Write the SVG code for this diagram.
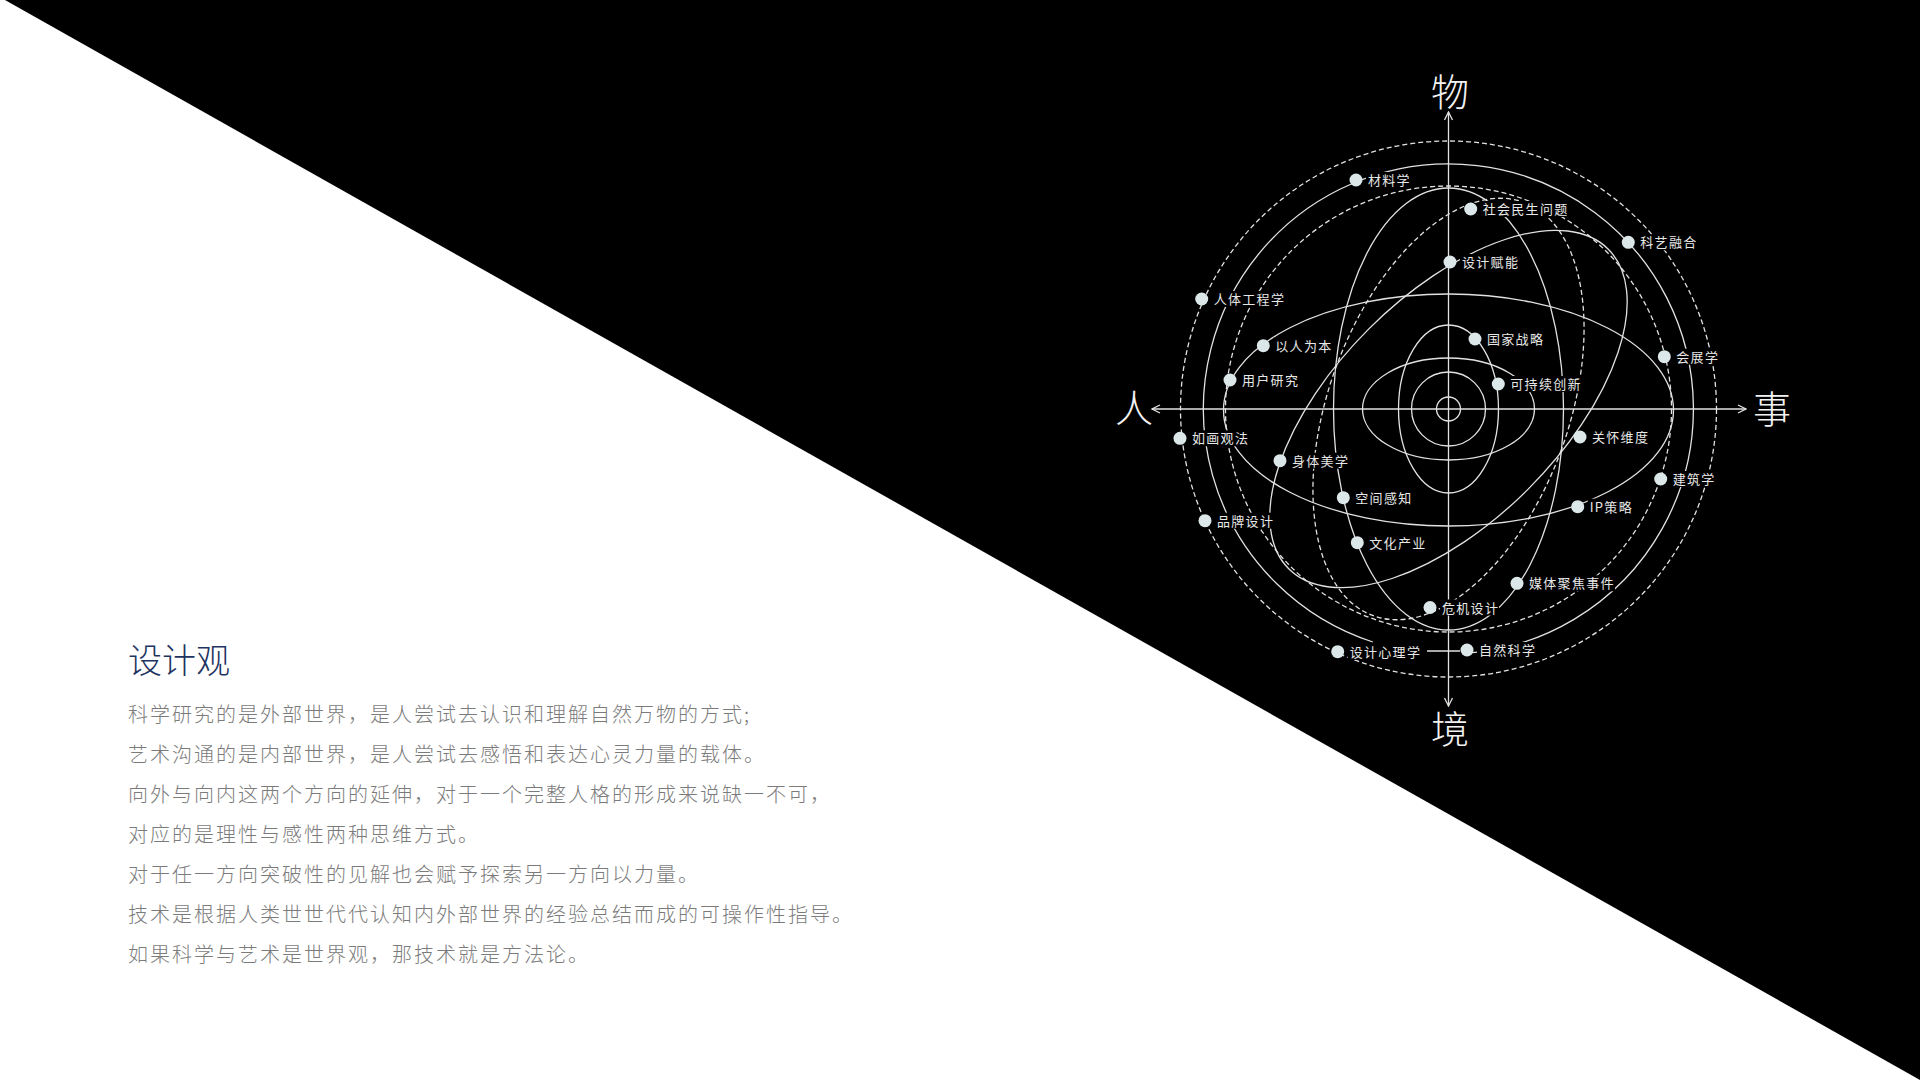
<svg xmlns="http://www.w3.org/2000/svg" width="1920" height="1080" viewBox="0 0 1920 1080">
<defs>
<style>
.curve{fill:none;stroke:#e2e2e2;stroke-width:1.3}
.dash{stroke-dasharray:5 3}
.mask{fill:#000}
.dot{fill:#dce7ea}
.lbl{font-family:"Noto Sans CJK SC","Noto Sans",sans-serif;font-size:13px;letter-spacing:1.3px;fill:#e8e8e8}
.ax{font-family:"Noto Sans CJK SC","Noto Sans",sans-serif;font-size:38px;font-weight:300;fill:#f2f2f2;text-anchor:middle}
.title{font-family:"Noto Sans CJK SC","Noto Sans",sans-serif;font-size:34px;font-weight:300;fill:#1d3461}
.body{font-family:"Noto Sans CJK SC","Noto Sans",sans-serif;font-size:20px;font-weight:300;letter-spacing:2px;fill:#7b7b7b}
</style>
<marker id="arr" viewBox="0 0 10 10" refX="9" refY="5" markerWidth="10" markerHeight="10" markerUnits="userSpaceOnUse" orient="auto">
<path d="M1,1 L9,5 L1,9" fill="none" stroke="#e2e2e2" stroke-width="1.3"/>
</marker>
</defs>

<rect x="0" y="0" width="1920" height="1080" fill="#ffffff"/>
<polygon points="5,0 1920,0 1920,1080" fill="#000000"/>

<g id="connectors">
<circle class="curve dash" cx="1448.5" cy="409" r="268"/>
<path class="curve" d="M1467.7,653.2 A245,245 0 1 0 1372.8,642"/>
<circle class="curve dash" cx="1448.5" cy="409" r="223"/>
<ellipse class="curve" cx="1448.5" cy="410" rx="225" ry="116"/>
<ellipse class="curve" cx="0" cy="0" rx="226" ry="113" transform="translate(1448.5 409) rotate(-45)"/>
<ellipse class="curve" cx="1448.5" cy="409" rx="115" ry="221"/>
<ellipse class="curve dash" cx="0" cy="0" rx="120" ry="220" transform="translate(1448.5 409) rotate(20)"/>
<circle class="curve" cx="1448.5" cy="409" r="12"/>
<circle class="curve" cx="1448.5" cy="409" r="37"/>
<ellipse class="curve" cx="1448.5" cy="409" rx="86" ry="51"/>
<ellipse class="curve" cx="1448.5" cy="409" rx="50" ry="84"/>
<path class="curve" d="M1448.5,409 V112" marker-end="url(#arr)"/>
<path class="curve" d="M1448.5,409 V706" marker-end="url(#arr)"/>
<path class="curve" d="M1448.5,409 H1152" marker-end="url(#arr)"/>
<path class="curve" d="M1448.5,409 H1746" marker-end="url(#arr)"/>
</g>

<g id="n-cailiaoxue"><rect class="mask" x="1366" y="172" width="45" height="16"/><circle class="dot" cx="1356" cy="180" r="6.5"/><text class="lbl" x="1368" y="185">材料学</text></g>
<g id="n-shehuiminsheng"><rect class="mask" x="1480.7" y="201" width="88" height="16"/><circle class="dot" cx="1470.7" cy="209" r="6.5"/><text class="lbl" x="1482.7" y="214">社会民生问题</text></g>
<g id="n-keyironghe"><rect class="mask" x="1638.3" y="234.3" width="59" height="16"/><circle class="dot" cx="1628.3" cy="242.3" r="6.5"/><text class="lbl" x="1640.3" y="247.3">科艺融合</text></g>
<g id="n-shejifuneng"><rect class="mask" x="1460" y="254" width="59" height="16"/><circle class="dot" cx="1450" cy="262" r="6.5"/><text class="lbl" x="1462" y="267">设计赋能</text></g>
<g id="n-rentigongcheng"><rect class="mask" x="1211.7" y="291" width="73" height="16"/><circle class="dot" cx="1201.7" cy="299" r="6.5"/><text class="lbl" x="1213.7" y="304">人体工程学</text></g>
<g id="n-guojiazhanlue"><rect class="mask" x="1485" y="331" width="59" height="16"/><circle class="dot" cx="1475" cy="339" r="6.5"/><text class="lbl" x="1487" y="344">国家战略</text></g>
<g id="n-yirenweiben"><rect class="mask" x="1273.3" y="337.7" width="59" height="16"/><circle class="dot" cx="1263.3" cy="345.7" r="6.5"/><text class="lbl" x="1275.3" y="350.7">以人为本</text></g>
<g id="n-huizhanxue"><rect class="mask" x="1674.3" y="348.7" width="45" height="16"/><circle class="dot" cx="1664.3" cy="356.7" r="6.5"/><text class="lbl" x="1676.3" y="361.7">会展学</text></g>
<g id="n-yonghuyanjiu"><rect class="mask" x="1240" y="372" width="59" height="16"/><circle class="dot" cx="1230" cy="380" r="6.5"/><text class="lbl" x="1242" y="385">用户研究</text></g>
<g id="n-kechixu"><rect class="mask" x="1508.3" y="376" width="73" height="16"/><circle class="dot" cx="1498.3" cy="384" r="6.5"/><text class="lbl" x="1510.3" y="389">可持续创新</text></g>
<g id="n-ruhuaguanfa"><rect class="mask" x="1190" y="430.3" width="59" height="16"/><circle class="dot" cx="1180" cy="438.3" r="6.5"/><text class="lbl" x="1192" y="443.3">如画观法</text></g>
<g id="n-guanhuaiweidu"><rect class="mask" x="1590" y="429" width="59" height="16"/><circle class="dot" cx="1580" cy="437" r="6.5"/><text class="lbl" x="1592" y="442">关怀维度</text></g>
<g id="n-shentimeixue"><rect class="mask" x="1290" y="452.7" width="59" height="16"/><circle class="dot" cx="1280" cy="460.7" r="6.5"/><text class="lbl" x="1292" y="465.7">身体美学</text></g>
<g id="n-jianzhuxue"><rect class="mask" x="1670.7" y="471" width="45" height="16"/><circle class="dot" cx="1660.7" cy="479" r="6.5"/><text class="lbl" x="1672.7" y="484">建筑学</text></g>
<g id="n-kongjianganzhi"><rect class="mask" x="1353.3" y="489.7" width="59" height="16"/><circle class="dot" cx="1343.3" cy="497.7" r="6.5"/><text class="lbl" x="1355.3" y="502.7">空间感知</text></g>
<g id="n-ipcelue"><rect class="mask" x="1587.7" y="498.7" width="45" height="16"/><circle class="dot" cx="1577.7" cy="506.7" r="6.5"/><text class="lbl" x="1589.7" y="511.7">IP策略</text></g>
<g id="n-pinpaisheji"><rect class="mask" x="1215" y="512.7" width="59" height="16"/><circle class="dot" cx="1205" cy="520.7" r="6.5"/><text class="lbl" x="1217" y="525.7">品牌设计</text></g>
<g id="n-wenhuachanye"><rect class="mask" x="1367.3" y="534.7" width="59" height="16"/><circle class="dot" cx="1357.3" cy="542.7" r="6.5"/><text class="lbl" x="1369.3" y="547.7">文化产业</text></g>
<g id="n-meitijujiao"><rect class="mask" x="1527" y="575.3" width="88" height="16"/><circle class="dot" cx="1517" cy="583.3" r="6.5"/><text class="lbl" x="1529" y="588.3">媒体聚焦事件</text></g>
<g id="n-weijisheji"><rect class="mask" x="1440" y="599.5" width="59" height="16"/><circle class="dot" cx="1430" cy="607.5" r="6.5"/><text class="lbl" x="1442" y="612.5">危机设计</text></g>
<g id="n-ziranke"><rect class="mask" x="1477" y="642" width="59" height="16"/><circle class="dot" cx="1467" cy="650" r="6.5"/><text class="lbl" x="1479" y="655">自然科学</text></g>
<g id="n-shejixinli"><rect class="mask" x="1347.7" y="643.7" width="73" height="16"/><circle class="dot" cx="1337.7" cy="651.7" r="6.5"/><text class="lbl" x="1349.7" y="656.7">设计心理学</text></g>
<g id="link-xinli-ziran"><path class="curve" d="M1427,651 H1460"/></g>

<g id="axis-labels">
<text class="ax" x="1450" y="106">物</text>
<text class="ax" x="1450" y="743">境</text>
<text class="ax" x="1134" y="422">人</text>
<text class="ax" x="1772" y="423">事</text>
</g>

<g id="text-block">
<text class="title" x="128" y="673">设计观</text>
<text class="body" x="128" y="722">科学研究的是外部世界，是人尝试去认识和理解自然万物的方式;</text>
<text class="body" x="128" y="762">艺术沟通的是内部世界，是人尝试去感悟和表达心灵力量的载体。</text>
<text class="body" x="128" y="802">向外与向内这两个方向的延伸，对于一个完整人格的形成来说缺一不可，</text>
<text class="body" x="128" y="842">对应的是理性与感性两种思维方式。</text>
<text class="body" x="128" y="882">对于任一方向突破性的见解也会赋予探索另一方向以力量。</text>
<text class="body" x="128" y="922">技术是根据人类世世代代认知内外部世界的经验总结而成的可操作性指导。</text>
<text class="body" x="128" y="962">如果科学与艺术是世界观，那技术就是方法论。</text>
</g>
</svg>
